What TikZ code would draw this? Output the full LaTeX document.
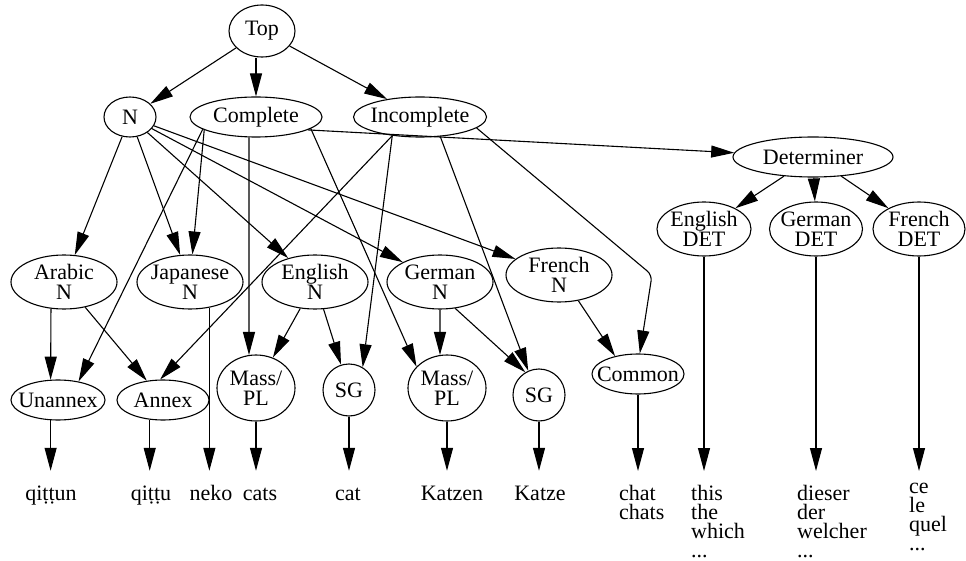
\documentclass[tikz,border=0pt]{standalone}
\usepackage{fontspec}
\setmainfont{Liberation Serif}
\usetikzlibrary{arrows.meta,shapes.geometric}
\newcommand\labelfont{\fontsize{22}{20}\selectfont\lineskiplimit=-50pt\relax}
\newcommand\wordfont{\fontsize{22}{19}\selectfont\lineskiplimit=-50pt\relax}
\tikzset{
  ell/.style={draw, ellipse, line width=1.1pt, inner xsep=-30pt, inner ysep=-14pt,
    align=center, font=\labelfont},
  word/.style={inner xsep=0pt, inner ysep=14pt, text height=15pt, anchor=base,
    font=\wordfont},
  block/.style={inner xsep=0pt, inner ysep=14pt, align=left, anchor=north west,
    font=\wordfont},
  arr/.style={draw, line width=1.1pt, -{Triangle[length=23pt,width=12pt]}}
}
\begin{document}
\begin{tikzpicture}[x=1pt,y=-1pt]

\fill[white] (0,0) rectangle (966,561);
\useasboundingbox (0,0) rectangle (966,561);

% upper levels
\node[ell, minimum width=66pt,  minimum height=52pt] (top)        at (262,31)  {Top};
\node[ell, minimum width=52pt,  minimum height=40pt] (n)          at (130,117) {N};
\node[ell, minimum width=132pt, minimum height=40pt] (complete)   at (256,117) {Complete};
\node[ell, minimum width=133pt, minimum height=40pt] (incomplete) at (420,117) {Incomplete};
\node[ell, minimum width=160pt, minimum height=40pt] (det)        at (813,157) {Determiner};
\node[ell, minimum width=94pt,  minimum height=54pt] (endet)      at (704,229) {English\\DET};
\node[ell, minimum width=93pt,  minimum height=54pt] (gedet)      at (816,229) {German\\DET};
\node[ell, minimum width=92pt,  minimum height=54pt] (frdet)      at (919,229) {French\\DET};

% language nouns
\node[ell, minimum width=106pt, minimum height=54pt] (arabn) at (64,282)  {Arabic\\N};
\node[ell, minimum width=106pt, minimum height=54pt] (japn)  at (190,282) {Japanese\\N};
\node[ell, minimum width=106pt, minimum height=54pt] (engn)  at (315,282) {English\\N};
\node[ell, minimum width=106pt, minimum height=54pt] (gern)  at (440,282) {German\\N};
\node[ell, minimum width=106pt, minimum height=54pt] (frn)   at (559,275) {French\\N};

% forms
\node[ell, minimum width=94pt, minimum height=40pt] (unannex) at (58,400)  {Unannex};
\node[ell, minimum width=92pt, minimum height=40pt] (annex)   at (163,400) {Annex};
\node[ell, minimum width=78pt, minimum height=66pt] (massa)   at (256,388) {Mass/\\PL};
\node[ell, minimum width=52pt, minimum height=52pt] (sga)     at (349,390) {SG};
\node[ell, minimum width=78pt, minimum height=66pt] (massb)   at (447,388) {Mass/\\PL};
\node[ell, minimum width=52pt, minimum height=52pt] (sgb)     at (539,395) {SG};
\node[ell, minimum width=92pt, minimum height=40pt] (common)  at (638,374) {Common};

% words (t with combining dot below)
\node[word]  (qittun) at (51,500)  {qit^^^^0323t^^^^0323un};
\node[word]  (qittu)  at (151,500) {qit^^^^0323t^^^^0323u};
\node[word]  (neko)   at (211,500) {neko};
\node[word]  (cats)   at (260,500) {cats};
\node[word]  (cat)    at (348,500) {cat};
\node[word]  (katzen) at (452,500) {Katzen};
\node[word]  (katze)  at (540,500) {Katze};
\node[block] (chat)   at (619,471) {chat\\chats};
\node[block] (this)   at (691,471) {this\\the\\which\\...};
\node[block] (dieser) at (797,471) {dieser\\der\\welcher\\...};
\node[block, inner ysep=12pt] (ce) at (909,471) {ce\\le\\quel\\...};

\coordinate (bend) at (652,275);

% top level
\draw[arr] (top) -- (n);
\draw[arr] (top.south -| complete.north) -- (complete.north);
\draw[arr] (top) -- (incomplete);

% N
\draw[arr] (n) -- (arabn);
\draw[arr] (n) -- (japn);
\draw[arr] (n) -- (engn);
\draw[arr] (n) -- (gern);
\draw[arr] (n) -- (frn);

% Complete
\draw[arr] (complete.193) -- (unannex.42);
\draw[arr] (complete.194) -- (japn.85);
\draw[arr] (complete.251) -- (massa.102);
\draw[arr] (complete.-12) -- (massb.145);
\draw[arr] (complete.-14) -- (det);

% Incomplete
\draw[arr] (incomplete.214) -- (annex.98);
\draw[arr] (incomplete.214) -- (sga.59);
\draw[arr] (incomplete.-44) -- (sgb.114);
\draw[arr, rounded corners=6pt] (incomplete.-11) -- (bend) -- (common.85);

% language nouns to forms
\draw[arr] (arabn.244) -- (unannex.110);
\draw[arr] (arabn) -- (annex);
\draw[arr] (engn) -- (massa);
\draw[arr] (engn) -- (sga);
\draw[arr] (gern.south) -- (massb.102);
\draw[arr] (gern.-60) -- (sgb.121);
\draw[arr] (frn.-53) -- (common.142);

% determiners
\draw[arr] (det) -- (endet);
\draw[arr] (det) -- (gedet);
\draw[arr] (det) -- (frdet);

% forms to words
\draw[arr] (unannex.250) -- (unannex.250 |- qittun.north);
\draw[arr] (annex.236) -- (annex.236 |- qittu.north);
\draw[arr] (japn.307) -- (japn.307 |- neko.north);
\draw[arr] (massa.south) -- (massa.south |- cats.north);
\draw[arr] (sga.south) -- (sga.south |- cat.north);
\draw[arr] (massb.south) -- (massb.south |- katzen.north);
\draw[arr] (sgb.south) -- (sgb.south |- katze.north);
\draw[arr] (common.south) -- (common.south |- chat.north);
\draw[arr] (endet.south) -- (endet.south |- this.north);
\draw[arr] (gedet.south) -- (gedet.south |- dieser.north);
\draw[arr] (frdet.south) -- (frdet.south |- ce.north);
\end{tikzpicture}
\end{document}
